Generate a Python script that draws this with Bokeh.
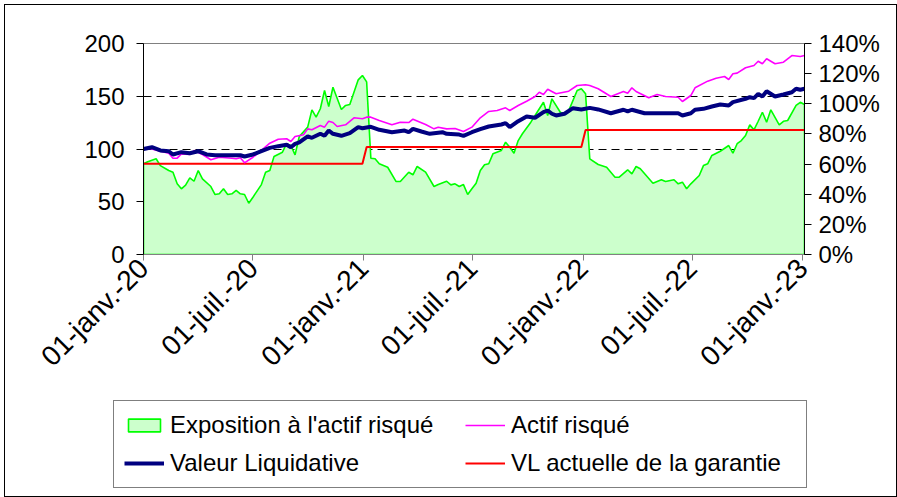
import math
import numpy as np
import pandas as pd
from bokeh.plotting import figure
from bokeh.layouts import column
from bokeh.models import (Range1d, LinearAxis, FixedTicker, PrintfTickFormatter,
                          Legend, LegendItem)
from bokeh.embed import file_html
from bokeh.resources import INLINE

# ---------------- data ----------------
START = "2020-01-01"   # week 0 ; data points are weekly (week number since START)

nav_weeks = [0, 2, 4, 6, 7, 9, 11, 13, 15, 17, 20, 23, 24, 26, 28, 30, 32, 34, 35, 36, 37, 39, 40, 42, 43,
             44, 45, 47, 49, 51, 52, 54, 56, 59, 62, 63, 64, 66, 68, 71, 72, 75, 76, 78, 80, 82, 85, 86, 87,
             89, 91, 93, 95, 96, 97, 98, 100, 102, 104, 106, 108, 111, 114, 115, 116, 119, 122, 127, 128,
             130, 131, 133, 135, 137, 139, 140, 143, 144, 145, 146, 147, 148, 150, 152, 154, 155, 156, 157]
nav_values = [100, 101.7, 98.6, 97.9, 94.8, 97, 96, 97.9, 94.8, 94.1, 94.1, 94.1, 92.9, 94.8, 97.9, 101.1,
              102.7, 104, 101.7, 104.9, 106.2, 111.9, 110.6, 114.4, 112.5, 117.5, 114.4, 112.5, 115, 120.7,
              119.7, 121, 118.2, 115.9, 117.5, 115.9, 119.1, 116.6, 114.4, 115.9, 114.4, 113.7, 112.5, 115.9,
              118.8, 121.3, 123.2, 124.5, 120.7, 126.4, 130.8, 129.6, 134.9, 136.5, 133.4, 131.8, 133.4,
              138.7, 137.4, 139, 137.5, 133.9, 137.2, 135.6, 137.2, 133.9, 133.9, 133.9, 131.8, 133.9, 137.2,
              138.1, 140.3, 142.2, 141.2, 144.4, 147.6, 149.1, 148.2, 152.3, 149.8, 154.8, 149.8, 151.7,
              153.8, 157.1, 156.1, 157.1]

risky_weeks = [0, 1, 4, 6, 7, 8, 9, 11, 12, 14, 16, 18, 21, 22, 23, 24, 26, 28, 30, 32, 34, 35, 36, 38, 39,
               40, 42, 43, 44, 45, 46, 48, 50, 52, 53, 54, 56, 59, 61, 63, 64, 67, 69, 70, 72, 74, 76, 78, 80,
               82, 84, 86, 87, 89, 91, 93, 94, 95, 96, 98, 101, 103, 105, 106, 108, 111, 114, 115, 116, 117,
               120, 122, 124, 127, 128, 130, 131, 134, 136, 138, 139, 140, 141, 143, 145, 146, 147, 148, 150,
               152, 154, 156, 157]
risky_values = [100, 101, 97.9, 96, 91.3, 91.3, 95.4, 94.8, 98.6, 94.8, 89.8, 92.2, 91.3, 90.7, 91.7, 86.9,
                92.2, 98.6, 105.5, 109.3, 109.7, 107.1, 111.9, 113.5, 119.1, 118.2, 122.3, 120.7, 126.4,
                125.1, 121.3, 122.9, 129.6, 128.6, 130.2, 130.2, 127, 122.9, 125.4, 125.1, 128.3, 123.2,
                119.1, 120.7, 119.1, 119.4, 116.6, 120.7, 129.6, 135.6, 136.5, 139, 136.5, 141.2, 145.3,
                149.8, 153.8, 151.7, 156.7, 152.3, 154.8, 160.2, 160.9, 160.2, 157.1, 149.8, 154.5, 152.9,
                158, 154.5, 148.5, 151.7, 149.8, 149.1, 145, 150.7, 158, 164.3, 167.1, 168.7, 165.9, 171.3,
                171.9, 177, 179.2, 183.2, 180.8, 185.5, 180.8, 182.3, 188.6, 187.7, 188.6]

expo_weeks = [0, 1, 3, 4, 6, 7, 8, 9, 10, 11, 12, 13, 14, 16, 17, 18, 19, 20, 21, 22, 23, 24, 25, 26, 28,
              29, 30, 31, 33, 34, 35, 36, 37, 39, 40, 41, 42, 43, 44, 45, 47, 48, 49, 51, 52, 53, 54, 55,
              56, 58, 60, 61, 63, 64, 65, 67, 69, 70, 72, 73, 74, 75, 76, 77, 78, 79, 80, 81, 82, 83, 85,
              86, 87, 88, 89, 90, 92, 93, 95, 96, 97, 99, 100, 101, 103, 104, 105, 106, 108, 110, 112, 113,
              115, 116, 117, 118, 121, 123, 124, 126, 127, 128, 129, 130, 132, 133, 134, 135, 137, 139, 140,
              141, 142, 143, 144, 145, 146, 147, 148, 149, 151, 152, 153, 155, 156, 157]
expo_pct = [60.2, 61.5, 63.5, 59, 55.7, 54.6, 46.9, 43.6, 46, 50.9, 48.6, 55.7, 50.2, 45.1, 39.8, 40.3, 43.6,
            39.8, 40.3, 42.5, 40.3, 39.8, 34, 38, 46.4, 54.6, 55.7, 65, 67.9, 73.5, 72.3, 66.1, 78.3, 84.5,
            96, 91.1, 96.7, 108.8, 98.2, 111, 96.2, 98.9, 99.5, 115.9, 118.8, 114.5, 63.9, 63.5, 60.2,
            57.9, 48.4, 48.4, 54.6, 52.9, 58.4, 54.6, 45.1, 46.4, 48.6, 46.2, 46.9, 45.1, 46.4, 39.8, 43.6,
            47.3, 55.7, 59.5, 60.2, 66.8, 69, 74.5, 71.2, 67.2, 75.6, 80.1, 87.8, 92.2, 101, 92.2, 103.3,
            94.4, 92.9, 95.5, 108.8, 110, 106.6, 63.5, 59.7, 57.9, 51.3, 51.3, 56.2, 53.5, 58.4, 56.9, 47.3,
            49.6, 48.4, 49.6, 46.9, 48, 43.6, 46.9, 52.4, 59, 60.2, 65.7, 68.5, 72.3, 67.2, 73.5, 75.6, 79,
            86, 82.7, 88.4, 94.4, 87.8, 96, 86, 88.4, 88.9, 98.9, 101, 99.5]

guar_weeks = [0, 52, 53, 104, 105, 157]
guar_values = [86, 86, 102, 102, 118, 118]

tick_dates = ["2020-01-01", "2020-07-01", "2021-01-01", "2021-07-01",
              "2022-01-01", "2022-07-01", "2023-01-01"]
tick_labels = ["01-janv.-20", "01-juil.-20", "01-janv.-21", "01-juil.-21",
               "01-janv.-22", "01-juil.-22", "01-janv.-23"]
left_ticks = [0, 50, 100, 150, 200]
right_ticks = [0, 20, 40, 60, 80, 100, 120, 140]
grid_levels = [50, 100, 150]

series_labels = ["Exposition à l'actif risqué", "Actif risqué",
                 "Valeur Liquidative", "VL actuelle de la garantie"]

# ---------------- helpers ----------------
base = pd.Timestamp(START)


def to_dates(weeks):
    return (base + pd.to_timedelta(np.asarray(weeks) * 7, unit="D")).values


def to_ms(d):
    return float(pd.Timestamp(d).value // 10**6)


FONT = "Liberation Sans"
FS = "24px"
FSX = "28px"

GREEN_FILL, GREEN_LINE = "#CCFFCC", "#00FF00"
MAGENTA, NAVY, RED = "#FF00FF", "#000080", "#FF0000"

x_start = to_dates([0])[0]
x_end = to_dates([max(nav_weeks)])[0]

W = 891
p = figure(width=W, height=390, x_axis_type="datetime", output_backend="svg",
           toolbar_location=None, x_range=Range1d(x_start, x_end), y_range=Range1d(0, 200),
           min_border_left=138, min_border_right=92, min_border_top=38, min_border_bottom=141)
p.extra_y_ranges = {"pct": Range1d(0, 140)}
p.background_fill_color = "white"
p.border_fill_color = "white"
p.outline_line_color = "#808080"
p.outline_line_width = 1

# grid
p.xgrid.visible = False
p.ygrid.ticker = FixedTicker(ticks=grid_levels)
p.ygrid.grid_line_color = "black"
p.ygrid.grid_line_dash = "8 5"
p.ygrid.grid_line_width = 1

# exposure area (right axis)
ed = to_dates(expo_weeks)
patch_x = np.concatenate([[ed[0]], ed, [ed[-1]]])
patch_y = np.concatenate([[0], np.asarray(expo_pct, dtype=float), [0]])
p.patch(patch_x, patch_y, y_range_name="pct", fill_color=GREEN_FILL,
        line_color=GREEN_LINE, line_width=1.6)

p.line(to_dates(guar_weeks), guar_values, line_color=RED, line_width=2)
p.line(to_dates(risky_weeks), risky_values, line_color=MAGENTA, line_width=1.6)
p.line(to_dates(nav_weeks), nav_values, line_color=NAVY, line_width=4)

# x axis
tick_ms = [to_ms(d) for d in tick_dates]
xa = p.xaxis[0]
xa.ticker = FixedTicker(ticks=tick_ms)
xa.major_label_overrides = {t: lab for t, lab in zip(tick_ms, tick_labels)}
xa.major_label_orientation = math.pi / 4
xa.axis_line_color = "#808080"
xa.major_tick_line_color = "#808080"
xa.major_tick_out = 6
xa.major_tick_in = 0
xa.minor_tick_line_color = None
xa.major_label_standoff = 3
xa.major_label_text_font = FONT
xa.major_label_text_font_size = FSX
xa.major_label_text_color = "black"

# left axis
ya = p.yaxis[0]
ya.ticker = FixedTicker(ticks=left_ticks)
ya.axis_line_color = "black"
ya.major_tick_line_color = "black"
ya.major_tick_out = 7
ya.major_tick_in = 0
ya.minor_tick_line_color = None
ya.major_label_standoff = 12
ya.major_label_text_font = FONT
ya.major_label_text_font_size = FS
ya.major_label_text_color = "black"

# right axis
ra = LinearAxis(y_range_name="pct", ticker=FixedTicker(ticks=right_ticks),
                formatter=PrintfTickFormatter(format="%d%%"))
ra.axis_line_color = "black"
ra.major_tick_line_color = "black"
ra.major_tick_out = 7
ra.major_tick_in = 0
ra.minor_tick_line_color = None
ra.major_label_standoff = 7
ra.major_label_text_font = FONT
ra.major_label_text_font_size = FS
ra.major_label_text_color = "black"
p.add_layout(ra, "right")

# ---------------- legend panel (own strip under the chart) ----------------
lg = figure(width=W, height=101, output_backend="svg", toolbar_location=None,
            x_range=Range1d(0, 1), y_range=Range1d(0, 1),
            x_axis_location=None, y_axis_location=None,
            min_border_left=0, min_border_right=0, min_border_top=0, min_border_bottom=0)
lg.grid.visible = False
lg.outline_line_color = None
lg.background_fill_color = "white"
lg.border_fill_color = "white"
for f in (p, lg):
    try:
        f.frame_align = False
    except Exception:
        pass

# legend keys only (no visible data in this strip)
g_expo = lg.patch([np.nan], [np.nan], fill_color=GREEN_FILL, line_color=GREEN_LINE, line_width=1.6)
g_risky = lg.line([np.nan], [np.nan], line_color=MAGENTA, line_width=1.6)
g_nav = lg.line([np.nan], [np.nan], line_color=NAVY, line_width=4)
g_guar = lg.line([np.nan], [np.nan], line_color=RED, line_width=2)

legend = Legend(items=[LegendItem(label=lab, renderers=[r]) for lab, r in
                       zip(series_labels, [g_expo, g_risky, g_nav, g_guar])],
                location=(108, 8), orientation="horizontal", ncols=2)
legend.label_text_font = FONT
legend.label_text_font_size = FS
legend.label_text_color = "black"
legend.border_line_color = "black"
legend.border_line_width = 1
legend.background_fill_color = "white"
legend.background_fill_alpha = 1
legend.padding = 10
legend.spacing = 10
legend.margin = 0
legend.glyph_width = 40
legend.glyph_height = 16
legend.label_standoff = 6
legend.label_width = 285
legend.label_height = 28
lg.add_layout(legend, "center")

layout = column(p, lg, spacing=0)
layout.styles = {"margin-left": "5px", "margin-top": "5px", "outline": "1px solid black"}

open("out.html", "w").write(file_html(layout, INLINE))
